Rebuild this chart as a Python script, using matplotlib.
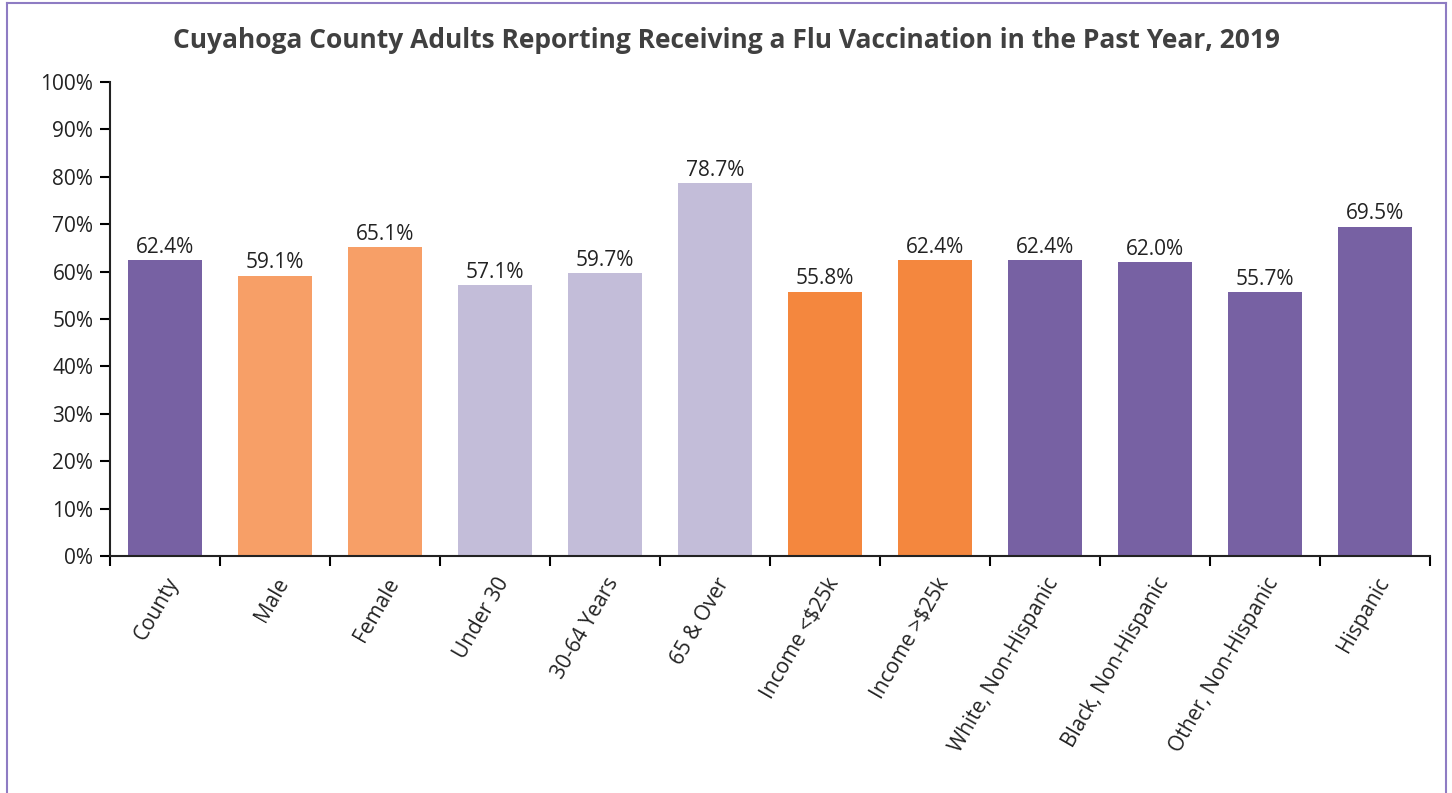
import matplotlib.pyplot as plt
from matplotlib.lines import Line2D
from matplotlib.transforms import ScaledTranslation

categories = ['County', 'Male', 'Female', 'Under 30', '30-64 Years', '65 & Over',
              'Income <$25k', 'Income >$25k', 'White, Non-Hispanic',
              'Black, Non-Hispanic', 'Other, Non-Hispanic', 'Hispanic']
values = [62.4, 59.1, 65.1, 57.1, 59.7, 78.7, 55.8, 62.4, 62.4, 62.0, 55.7, 69.5]
groups = ['county', 'sex', 'sex', 'age', 'age', 'age', 'income', 'income',
          'race', 'race', 'race', 'race']

group_colors = {'county': '#7761A3', 'sex': '#F79F67', 'age': '#C3BDD9',
                'income': '#F4873E', 'race': '#7761A3'}

plt.rcParams['font.family'] = ['Open Sans', 'DejaVu Sans']

fig = plt.figure(figsize=(14.52, 7.93), dpi=100)
ax = fig.add_axes([110 / 1452, 1 - 556 / 793, 1320 / 1452, (556 - 82) / 793])

x = list(range(len(categories)))
colors = [group_colors[g] for g in groups]
ax.bar(x, values, width=0.67, color=colors, zorder=2)

for xi, v in zip(x, values):
    ax.text(xi, v + 0.5, f'{v:.1f}%', ha='center', va='bottom', fontsize=15, color='#222222')

ax.set_xlim(-0.5, len(categories) - 0.5)
ax.set_ylim(0, 100)
ax.set_yticks(range(0, 101, 10))
ax.set_yticklabels([f'{t}%' for t in range(0, 101, 10)], fontsize=15, color='#222222')
ax.set_xticks(x)
ax.set_xticklabels(categories, rotation=60, ha='right', rotation_mode='anchor',
                   fontsize=15, color='#222222')
shift = ScaledTranslation(12 / 100, 0, fig.dpi_scale_trans)
for lbl in ax.get_xticklabels():
    lbl.set_transform(lbl.get_transform() + shift)
ax.tick_params(axis='x', length=0, pad=13)
ax.set_xticks([i - 0.5 for i in range(len(categories) + 1)], minor=True)
ax.tick_params(axis='x', which='minor', length=7, width=1.5, direction='out')
ax.tick_params(axis='y', length=7, width=1.5, direction='out', pad=5)

for s in ['top', 'right']:
    ax.spines[s].set_visible(False)
for s in ['left', 'bottom']:
    ax.spines[s].set_linewidth(1.5)
    ax.spines[s].set_color('#222222')

fig.text(0.5, 1 - 40 / 793, 'Cuyahoga County Adults Reporting Receiving a Flu Vaccination in the Past Year, 2019',
         ha='center', va='center', fontsize=19, fontweight='bold', color='#404040')

# outer frame (no bottom edge)
frame_color = '#8E7CC3'
fig.add_artist(Line2D([7 / 1452, 7 / 1452], [0, 1 - 3 / 793], color=frame_color, lw=1.5))
fig.add_artist(Line2D([7 / 1452, 1446 / 1452], [1 - 3 / 793, 1 - 3 / 793], color=frame_color, lw=1.5))
fig.add_artist(Line2D([1446 / 1452, 1446 / 1452], [0, 1 - 3 / 793], color=frame_color, lw=1.5))

fig.savefig('out.png', dpi=100)
